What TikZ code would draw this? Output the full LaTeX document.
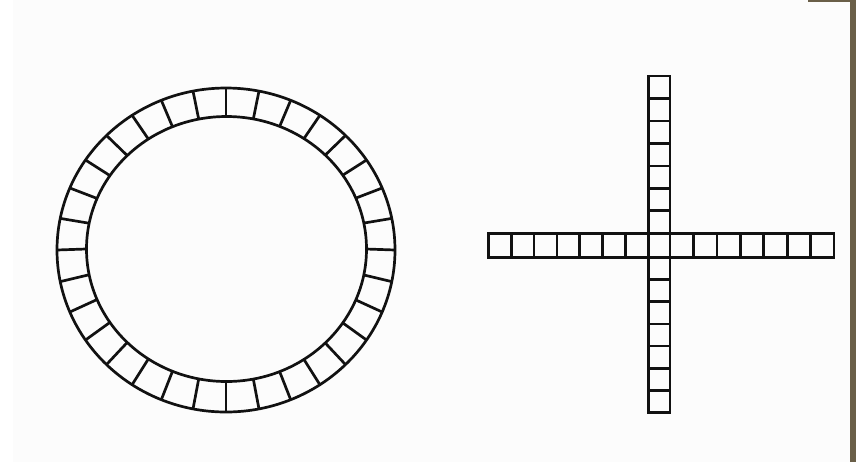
\documentclass[tikz,border=0pt]{standalone}
\definecolor{paper}{HTML}{FCFCFC}
\definecolor{frame}{HTML}{6A5F48}
\definecolor{ink}{HTML}{111111}
\tikzset{
  inkline/.style={draw=ink, line width=1.35pt, line join=miter},
}
\begin{document}
\begin{tikzpicture}[x=0.5pt,y=-0.5pt]
  % page and margins
  \useasboundingbox (0,0) rectangle (856,462);
  \fill[white] (0,0) rectangle (856,462);
  \fill[paper] (13,0) rectangle (850,462);
  \fill[frame] (850,0) rectangle (856,462);
  \fill[frame] (808,0) rectangle (856,2);

  % ring of 32 cells
  \draw[inkline] (226,250) ellipse [x radius=169, y radius=162];
  \draw[inkline] (226.5,249) ellipse [x radius=140, y radius=132.5];
  \foreach \k in {0,...,31}{
    \pgfmathsetmacro{\a}{\k*11.25}
    \draw[inkline] ({226+140*cos(\a)},{249+132.5*sin(\a)}) -- ({226+169*cos(\a)},{250+162*sin(\a)});
  }

  % cross of cells
  \draw[inkline] (648.3,76) rectangle (670,412.7);
  \draw[inkline] (488.3,233.3) rectangle (834,257.3);
  \foreach \i in {1,...,6}{
    \draw[inkline] ({488.3+\i*22.86},233.3) -- ({488.3+\i*22.86},257.3);
    \draw[inkline] ({670+\i*23.43},233.3) -- ({670+\i*23.43},257.3);
    \draw[inkline] (648.3,{76+\i*22.47}) -- (670,{76+\i*22.47});
    \draw[inkline] (648.3,{257.3+\i*22.2}) -- (670,{257.3+\i*22.2});
  }
\end{tikzpicture}
\end{document}
